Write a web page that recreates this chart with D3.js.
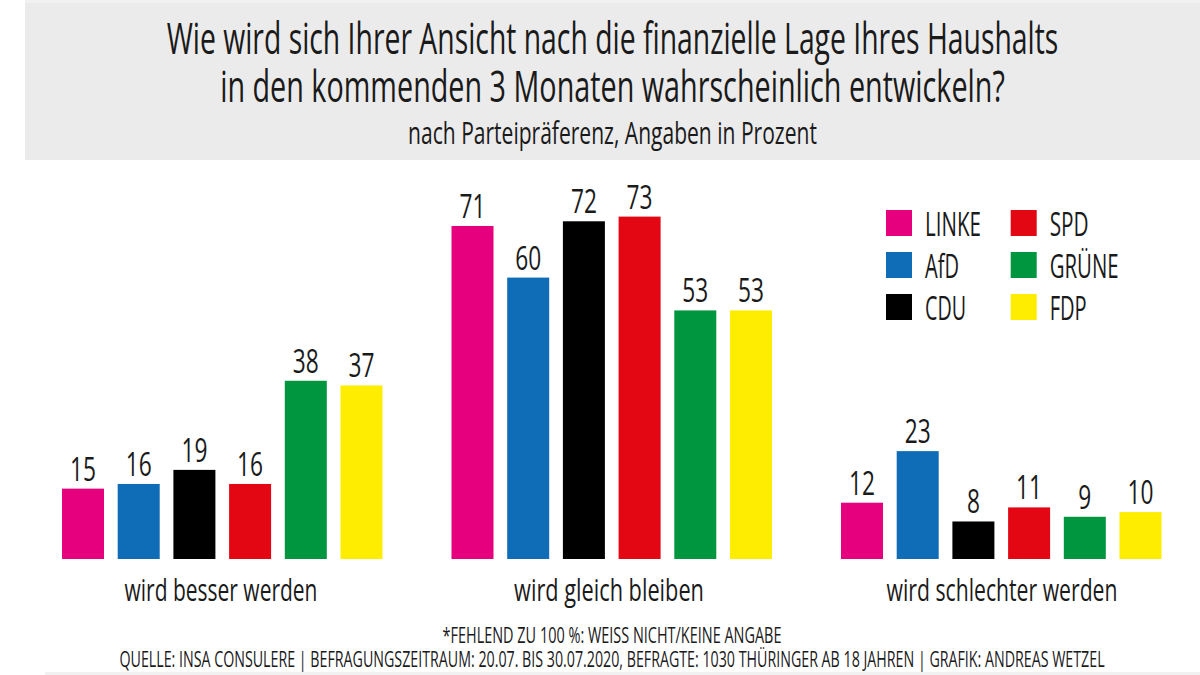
<!DOCTYPE html>
<html>
<head>
<meta charset="utf-8">
<script src="https://cdn.jsdelivr.net/npm/d3@7"></script>
<style>
  body { margin: 0; background: #fff; }
  svg { display: block; }
  text { font-family: "Open Sans", "Liberation Sans", sans-serif; fill: #1a1a1a; }
</style>
</head>
<body>
<script>
const width = 1200;
const height = 675;

const groups = ["wird besser werden", "wird gleich bleiben", "wird schlechter werden"];
const parties = ["LINKE", "AfD", "CDU", "SPD", "GRÜNE", "FDP"];
const partyColors = ["#e6007e", "#0f6cb6", "#000000", "#e30613", "#009640", "#ffed00"];

const besser = [15, 16, 19, 16, 38, 37];
const gleich = [71, 60, 72, 73, 53, 53];
const schlechter = [12, 23, 8, 11, 9, 10];
const groupValues = [besser, gleich, schlechter];

const legendColumns = [["LINKE", "AfD", "CDU"], ["SPD", "GRÜNE", "FDP"]];

const titleLines = [
  "Wie wird sich Ihrer Ansicht nach die finanzielle Lage Ihres Haushalts",
  "in den kommenden 3 Monaten wahrscheinlich entwickeln?"
];
const subtitle = "nach Parteipräferenz, Angaben in Prozent";
const footnotes = [
  "*FEHLEND ZU 100 %: WEISS NICHT/KEINE ANGABE",
  "QUELLE: INSA CONSULERE | BEFRAGUNGSZEITRAUM: 20.07. BIS 30.07.2020, BEFRAGTE: 1030 THÜRINGER AB 18 JAHREN | GRAFIK: ANDREAS WETZEL"
];

const svg = d3.select("body").append("svg")
  .attr("width", width)
  .attr("height", height);

// Header panel, the lighter strip above it and the thin grey strip at the bottom edge.
svg.append("rect").attr("x", 25).attr("y", 0).attr("width", 1175).attr("height", 3).attr("fill", "#f1f1f1");
svg.append("rect").attr("x", 25).attr("y", 3).attr("width", 1175).attr("height", 157).attr("fill", "#ebebeb");
svg.append("rect").attr("x", 45).attr("y", 672).attr("width", width - 45).attr("height", 3).attr("fill", "#f1f1f1");

// Place a text and squeeze it sideways to a measured width (no condensed font here).
function fitText(parent, str, x, y, size, len, anchor) {
  const t = parent.append("text")
    .attr("text-anchor", anchor || "middle")
    .style("font-size", size + "px")
    .text(str);
  const natural = t.node().getComputedTextLength();
  t.attr("transform", `translate(${x},${y}) scale(${len / natural},1)`);
  return t;
}

const titleWidths = [892, 785];
titleLines.forEach((line, i) => {
  fitText(svg, line, 612.5, 54 + i * 47.5, 44, titleWidths[i]);
});
fitText(svg, subtitle, 612.5, 144, 31, 409);

// Scales.
const x0 = d3.scaleBand().domain(groups).range([62, 1230.5]);
const x1 = d3.scaleBand().domain(parties).range([0, 320.5]).paddingInner(0.246);
const y = d3.scaleLinear().domain([0, 73]).range([559, 216.6]);
const color = d3.scaleOrdinal().domain(parties).range(partyColors);

// Bars and value labels.
const groupG = svg.selectAll(".group")
  .data(groups)
  .enter()
  .append("g")
  .attr("class", "group")
  .attr("transform", d => `translate(${x0(d)},0)`);

const cell = groupG.selectAll(".bar")
  .data((d, i) => groupValues[i].map((v, j) => ({ party: parties[j], value: v })))
  .enter()
  .append("g")
  .attr("class", "bar");

cell.append("rect")
  .attr("x", d => x1(d.party))
  .attr("y", d => y(d.value))
  .attr("width", x1.bandwidth())
  .attr("height", d => y(0) - y(d.value))
  .attr("fill", d => color(d.party));

cell.each(function(d) {
  fitText(d3.select(this), d.value, x1(d.party) + x1.bandwidth() / 2, y(d.value) - 8, 33, d.value < 10 ? 13 : 26);
});

// Group labels, centred on each group of bars.
const groupCentre = d3.scaleOrdinal().domain(groups).range([221, 609, 1002]);
const groupWidths = [193, 190, 231];
groups.forEach((g, i) => {
  fitText(svg, g, groupCentre(g), 601, 31, groupWidths[i]);
});

// Legend.
const legendX = d3.scalePoint().domain([0, 1]).range([886, 1010.7]);
const legendY = d3.scalePoint().domain([0, 1, 2]).range([210, 294]);
const legendLabelWidths = [[56, 34, 41], [39, 69, 37]];
legendColumns.forEach((col, c) => {
  const lg = svg.append("g").attr("transform", `translate(${legendX(c)},0)`);
  col.forEach((name, r) => {
    lg.append("rect")
      .attr("y", legendY(r))
      .attr("width", 26)
      .attr("height", 26)
      .attr("fill", color(name));
    fitText(lg, name, 39, legendY(r) + 26, 32, legendLabelWidths[c][r], "start");
  });
});

// Footnotes.
const footWidths = [339, 986];
footnotes.forEach((line, i) => {
  fitText(svg, line, 612, 643 + i * 24, 22, footWidths[i]);
});
</script>
</body>
</html>
